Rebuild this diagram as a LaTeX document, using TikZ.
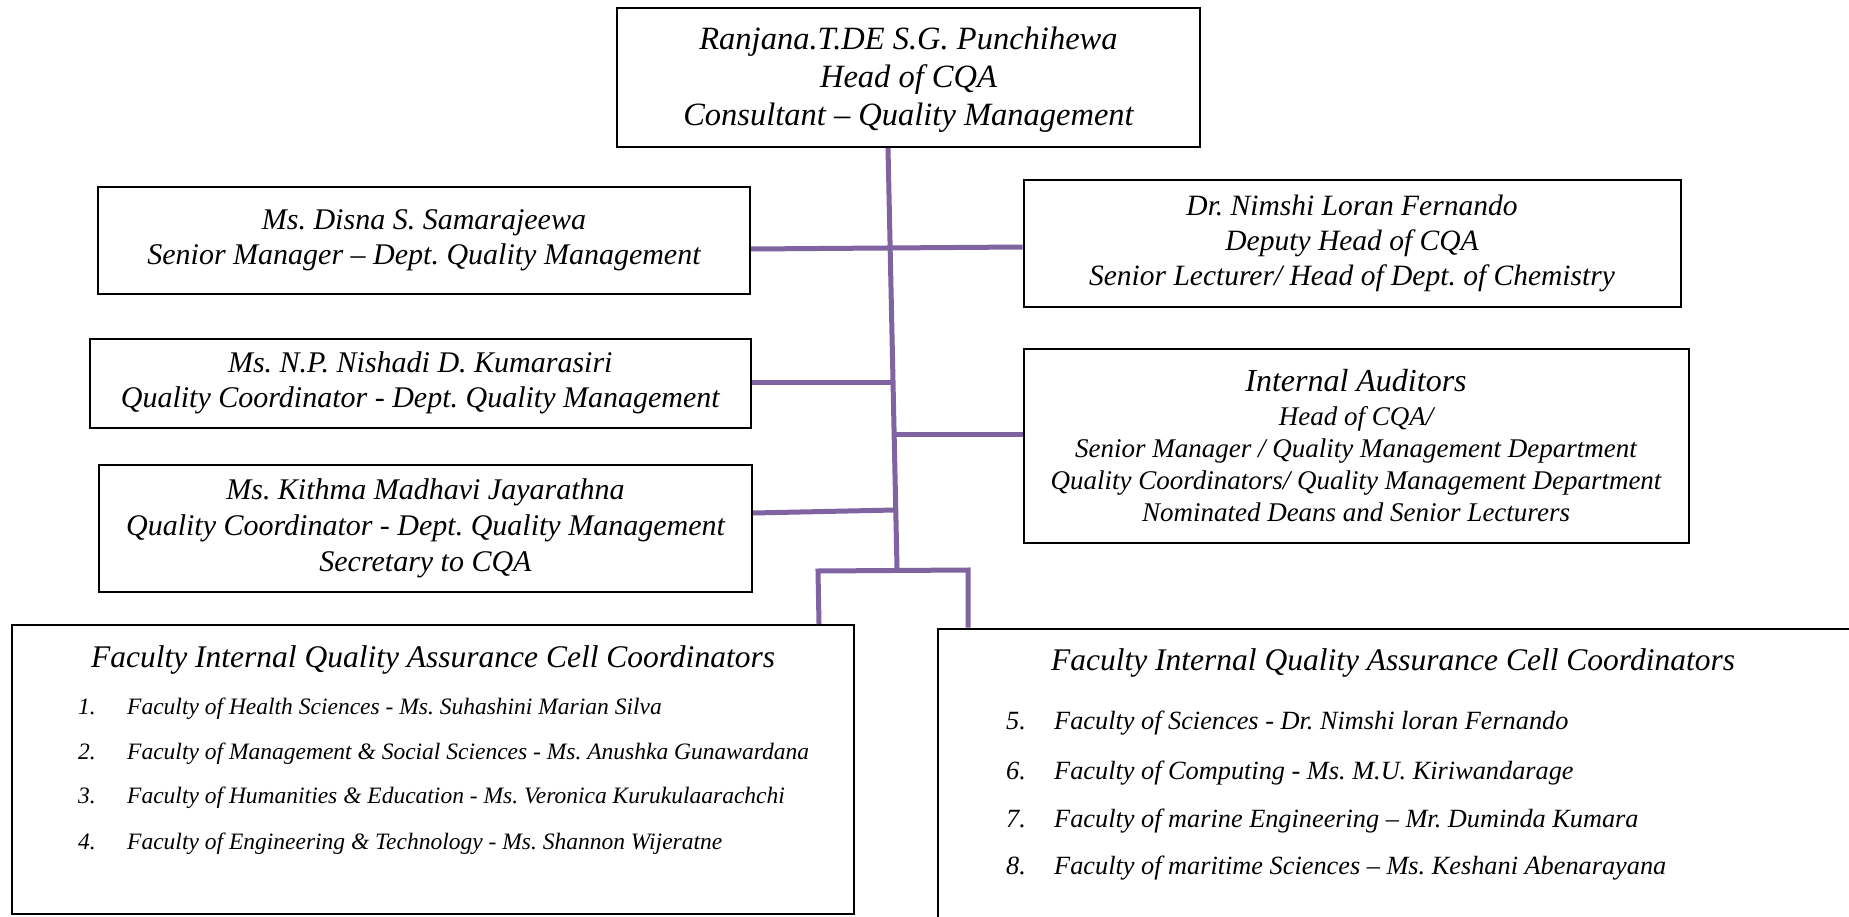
\documentclass[tikz,border=0pt]{standalone}
\usepackage{fontspec}
\setmainfont{Liberation Serif}
\definecolor{connc}{HTML}{8064A2}
\frenchspacing
\begin{document}
\frenchspacing
\begin{tikzpicture}[x=1pt,y=-1pt,
  box/.style={draw=black, line width=2pt, fill=white, inner sep=0pt, align=center},
  conn/.style={draw=connc, line width=5pt},
  itemA/.style={anchor=mid west, inner sep=0pt, font=\itshape\fontsize{23.5}{28}\selectfont},
  itemB/.style={anchor=mid west, inner sep=0pt, font=\itshape\fontsize{26.3}{31}\selectfont},
  ttl/.style={inner sep=0pt, font=\itshape\fontsize{31.5}{36}\selectfont}]
\clip (0,0) rectangle (1849,917);
\fill[white] (0,0) rectangle (1849,917);

% top box
\node[box, minimum width=583pt, minimum height=139pt, font=\itshape\fontsize{32.5}{38}\selectfont] (head) at (908.5,77.5)
  {\strut Ranjana.T.DE S.G. Punchihewa\\Head of CQA\\Consultant – Quality Management};

% left column
\node[box, minimum width=652pt, minimum height=106pt, font=\itshape\fontsize{30}{35}\selectfont] (disna) at (424,240.5)
  {Ms. Disna S. Samarajeewa\\Senior Manager – Dept. Quality Management};
\node[box, minimum width=661pt, minimum height=89.5pt, font=\itshape\fontsize{30}{35}\selectfont] (nishadi) at (420.3,383.3)
  {Ms. N.P. Nishadi D. Kumarasiri\\Quality Coordinator - Dept. Quality Management};
\node[box, minimum width=653pt, minimum height=127.4pt, font=\itshape\fontsize{30}{36}\selectfont] (kithma) at (425.5,528.3)
  {Ms. Kithma Madhavi Jayarathna\\Quality Coordinator - Dept. Quality Management\\Secretary to CQA};

% right column
\node[box, minimum width=657pt, minimum height=126pt, font=\itshape\fontsize{29.5}{35}\selectfont] (nimshi) at (1352,243.5)
  {Dr. Nimshi Loran Fernando\\Deputy Head of CQA\\Senior Lecturer/ Head of Dept. of Chemistry};
\node[box, minimum width=665pt, minimum height=193.5pt, font=\itshape\fontsize{27}{32}\selectfont] (ia) at (1356,445.8)
  {{\fontsize{32}{36}\selectfont Internal Auditors}\\[2pt]Head of CQA/\\Senior Manager / Quality Management Department\\Quality Coordinators/ Quality Management Department\\Nominated Deans and Senior Lecturers};

% bottom boxes
\node[box, minimum width=842pt, minimum height=289pt] (bl) at (432.8,769.5) {};
\node[box, minimum width=932.5pt, minimum height=311.4pt] (br) at (1403.75,784.3) {};

\node[ttl] (blt) at (433,660) {Faculty Internal Quality Assurance Cell Coordinators};
\node[itemA] (bn1) at (78,712) {1.};
\node[itemA] (bi1) at (127,712) {Faculty of Health Sciences - Ms. Suhashini Marian Silva};
\node[itemA] (bn2) at (78,757) {2.};
\node[itemA] (bi2) at (127,757) {Faculty of Management \& Social Sciences - Ms. Anushka Gunawardana};
\node[itemA] (bn3) at (78,801) {3.};
\node[itemA] (bi3) at (127,801) {Faculty of Humanities \& Education - Ms. Veronica Kurukulaarachchi};
\node[itemA] (bn4) at (78,847) {4.};
\node[itemA] (bi4) at (127,847) {Faculty of Engineering \& Technology - Ms. Shannon Wijeratne};

\node[ttl] (brt) at (1393,663) {Faculty Internal Quality Assurance Cell Coordinators};
\node[itemB] (rn5) at (1006,727.5) {5.};
\node[itemB] (ri5) at (1054,727.5) {Faculty of Sciences - Dr. Nimshi loran Fernando};
\node[itemB] (rn6) at (1006,777) {6.};
\node[itemB] (ri6) at (1054,777) {Faculty of Computing - Ms. M.U. Kiriwandarage};
\node[itemB] (rn7) at (1006,825) {7.};
\node[itemB] (ri7) at (1054,825) {Faculty of marine Engineering – Mr. Duminda Kumara};
\node[itemB] (rn8) at (1006,872.6) {8.};
\node[itemB] (ri8) at (1054,872.6) {Faculty of maritime Sciences – Ms. Keshani Abenarayana};

% connectors
\coordinate (trTop) at (head.south -| 888,0);
\coordinate (trBot) at (897,568);
\draw[conn] (trTop) -- (trBot);
\draw[conn] (disna.east |- 0,249) -- (nimshi.west |- 0,247);
\coordinate (j2) at (893,382);
\draw[conn] (nishadi.east |- 0,382) -- (j2);
\coordinate (j3) at (895,434);
\draw[conn] (j3) -- (ia.west |- 0,434);
\coordinate (j4) at (895,510);
\draw[conn] (kithma.east |- 0,513) -- (j4);
\coordinate (bk1) at (818,571);
\coordinate (bk2) at (968,570);
\draw[conn] (bl.north -| 819,0) -- (bk1) -- (bk2) -- (br.north -| 968,0);
\end{tikzpicture}
\end{document}
